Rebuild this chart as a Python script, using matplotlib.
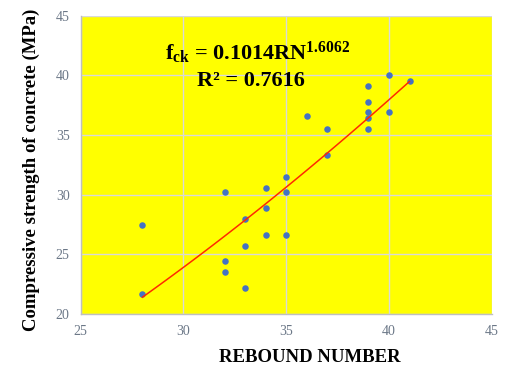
import numpy as np
import matplotlib
matplotlib.use("Agg")
import matplotlib.pyplot as plt

plt.rcParams['font.family'] = ['Liberation Serif', 'DejaVu Serif']
plt.rcParams['mathtext.fontset'] = 'custom'
plt.rcParams['mathtext.rm'] = 'Liberation Serif'
plt.rcParams['mathtext.bf'] = 'Liberation Serif:bold'
plt.rcParams['mathtext.it'] = 'Liberation Serif:italic'

rebound = [28, 28, 32, 32, 32, 33, 33, 33, 34, 34, 34, 35, 35, 35,
           36, 37, 37, 39, 39, 39, 39, 39, 40, 40, 41]
strength = [21.7, 27.5, 30.2, 24.4, 23.5, 28.0, 25.7, 22.2, 30.6, 28.9, 26.6,
            31.5, 30.2, 26.6, 36.6, 35.5, 33.3, 39.1, 37.8, 36.9, 36.4, 35.5,
            40.0, 36.9, 39.5]
fit_a = 0.1014
fit_b = 1.6062
xticks = [25, 30, 35, 40, 45]
yticks = [20, 25, 30, 35, 40, 45]

fig = plt.figure(figsize=(5.05, 3.69), dpi=100)
ax = fig.add_axes([80.7/505, 1 - 314/369, (491.7-80.7)/505, (314-15.7)/369])
ax.set_facecolor('#FFFF00')
ax.set_xlim(25, 45)
ax.set_ylim(20, 45)
ax.set_xticks(xticks)
ax.set_yticks(yticks)
ax.grid(True, color='#D9D9D9', linewidth=1.0)
ax.set_axisbelow(True)
for s in ['top', 'right']:
    ax.spines[s].set_visible(False)
for s in ['left', 'bottom']:
    ax.spines[s].set_color('#BFBFBF')
    ax.spines[s].set_linewidth(1.0)
ax.tick_params(length=0, labelsize=10, labelcolor='#6B7787', pad=8)

ax.scatter(rebound, strength, s=22, color='#4472C4', zorder=3, linewidths=0)
xf = np.linspace(min(rebound), max(rebound), 100)
ax.plot(xf, fit_a * xf ** fit_b, color='#FF2A00', linewidth=1.1, zorder=4)

ax.text(0.43, 0.875, r"f$_{\mathbf{ck}}$ = 0.1014RN$^{\mathbf{1.6062}}$",
        transform=ax.transAxes, ha='center', va='center',
        fontsize=16, fontweight='bold', color='black')
ax.text(0.415, 0.78, "R² = 0.7616", transform=ax.transAxes, ha='center',
        va='center', fontsize=16, fontweight='bold', color='black')

fig.text(310/505, 1 - 357/369, 'REBOUND NUMBER', ha='center', va='center',
         fontsize=13.5, fontweight='bold')
fig.text(31/505, 1 - 170/369, 'Compressive strength of concrete (MPa)',
         ha='center', va='center', rotation=90, fontsize=13.5,
         fontweight='bold')

fig.savefig('out.png', dpi=100)
